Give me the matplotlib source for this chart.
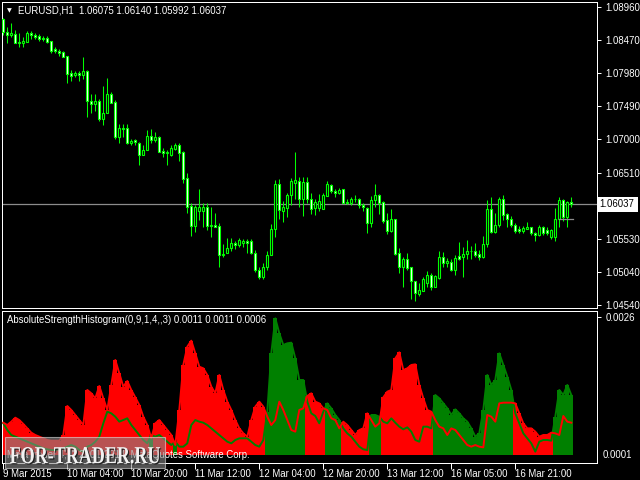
import matplotlib
matplotlib.use('Agg')
import matplotlib.pyplot as plt
import matplotlib.transforms as mtransforms
from matplotlib.patches import Rectangle, PathPatch
from matplotlib.textpath import TextPath
from matplotlib.font_manager import FontProperties
import numpy as np

plt.rcParams['font.family'] = ['Liberation Sans', 'DejaVu Sans']

# ---------------- data ----------------
opens = [1.08782,1.08594,1.08549,1.08564,1.08450,1.08435,1.08450,1.08583,1.08554,1.08539,
         1.08509,1.08505,1.08456,1.08337,1.08317,1.08302,1.08238,1.07981,1.07952,1.07981,
         1.07952,1.08020,1.07575,1.07526,1.07575,1.07300,1.07388,1.07675,1.07556,1.07042,
         1.07170,1.07170,1.06953,1.06993,1.06953,1.06775,1.06844,1.07052,1.06993,1.07042,
         1.06834,1.06804,1.06766,1.06859,1.06918,1.06815,1.06425,1.06014,1.05717,1.05944,
         1.05944,1.05995,1.05717,1.05728,1.05717,1.05292,1.05313,1.05387,1.05461,1.05431,
         1.05461,1.05491,1.05491,1.05313,1.05065,1.04957,1.05114,1.05288,1.05669,1.06336,
         1.05944,1.05980,1.06173,1.06360,1.06389,1.06122,1.06370,1.06122,1.05984,1.05984,
         1.05974,1.06162,1.06330,1.06241,1.06202,1.06262,1.06073,1.06063,1.06113,1.06122,
         1.06033,1.05980,1.05766,1.06103,1.06173,1.06073,1.05806,1.05648,1.05817,1.05313,
         1.05114,1.05224,1.05105,1.04898,1.04709,1.04758,1.04877,1.04991,1.04818,1.04947,
         1.05253,1.05165,1.05184,1.05065,1.05273,1.05253,1.05302,1.05351,1.05351,1.05302,
         1.05263,1.05451,1.05965,1.05629,1.05728,1.06122,1.05895,1.05817,1.05728,1.05669,
         1.05648,1.05678,1.05698,1.05609,1.05580,1.05698,1.05658,1.05559,1.05559,1.05817,
         1.06103,1.05855,1.06075]
highs = [1.08801,1.08672,1.08732,1.08623,1.08583,1.08515,1.08613,1.08613,1.08583,1.08564,
         1.08534,1.08539,1.08465,1.08376,1.08337,1.08317,1.08238,1.08030,1.08020,1.08020,
         1.08228,1.08030,1.07675,1.07675,1.07605,1.07793,1.07912,1.07704,1.07586,1.07230,
         1.07230,1.07230,1.07012,1.07012,1.06963,1.06918,1.07141,1.07151,1.07111,1.07052,
         1.06869,1.06844,1.06918,1.06944,1.06944,1.06830,1.06508,1.06054,1.06029,1.06262,
         1.06054,1.06054,1.05995,1.05906,1.05758,1.05451,1.05535,1.05535,1.05500,1.05535,
         1.05520,1.05520,1.05520,1.05362,1.05114,1.05173,1.05351,1.05747,1.06400,1.06410,
         1.06088,1.06202,1.06425,1.06815,1.06440,1.06440,1.06440,1.06202,1.06122,1.06192,
         1.06202,1.06380,1.06340,1.06262,1.06281,1.06262,1.06122,1.06143,1.06173,1.06133,
         1.06054,1.06004,1.06162,1.06340,1.06192,1.06093,1.05906,1.05965,1.05826,1.05387,
         1.05253,1.05313,1.05114,1.04907,1.04868,1.04957,1.05046,1.05025,1.04991,1.05347,
         1.05332,1.05243,1.05233,1.05292,1.05480,1.05411,1.05510,1.05421,1.05461,1.05362,
         1.05569,1.06103,1.06143,1.05906,1.06143,1.06173,1.05915,1.05866,1.05758,1.05717,
         1.05717,1.05777,1.05707,1.05629,1.05728,1.05717,1.05698,1.05669,1.05984,1.06143,
         1.06122,1.06093,1.06140]
lows = [1.08549,1.08426,1.08515,1.08435,1.08376,1.08376,1.08450,1.08494,1.08494,1.08456,
        1.08465,1.08435,1.08278,1.08278,1.08238,1.08219,1.07833,1.07872,1.07922,1.07863,
        1.07901,1.07329,1.07397,1.07418,1.07279,1.07211,1.07388,1.07537,1.07003,1.06953,
        1.07042,1.06933,1.06914,1.06914,1.06622,1.06775,1.06844,1.06953,1.06963,1.06815,
        1.06745,1.06622,1.06755,1.06844,1.06686,1.06360,1.05915,1.05569,1.05633,1.05806,
        1.05707,1.05658,1.05559,1.05698,1.05105,1.05253,1.05313,1.05351,1.05372,1.05411,
        1.05411,1.05313,1.05302,1.05036,1.04927,1.04936,1.05065,1.05288,1.05550,1.05826,
        1.05781,1.05855,1.06024,1.06113,1.06004,1.05866,1.06054,1.05895,1.05885,1.05944,
        1.05974,1.06162,1.06202,1.06152,1.06192,1.06054,1.06044,1.06029,1.06073,1.05984,
        1.05944,1.05618,1.05698,1.06004,1.05895,1.05766,1.05599,1.05629,1.05288,1.05025,
        1.04809,1.05065,1.04640,1.04610,1.04680,1.04758,1.04818,1.04769,1.04818,1.04927,
        1.05114,1.05105,1.05055,1.04991,1.05214,1.04966,1.05233,1.05224,1.05253,1.05214,
        1.05243,1.05411,1.05609,1.05609,1.05707,1.05806,1.05698,1.05698,1.05609,1.05609,
        1.05618,1.05669,1.05589,1.05500,1.05569,1.05589,1.05580,1.05529,1.05500,1.05707,
        1.05787,1.05707,1.05992]
closes = [1.08598,1.08554,1.08583,1.08435,1.08435,1.08465,1.08583,1.08545,1.08524,1.08494,
          1.08494,1.08450,1.08317,1.08312,1.08287,1.08228,1.07971,1.07941,1.07981,1.07952,
          1.08020,1.07566,1.07526,1.07575,1.07300,1.07397,1.07675,1.07546,1.07042,1.07170,
          1.07160,1.06953,1.06982,1.06963,1.06775,1.06844,1.07052,1.06993,1.07042,1.06815,
          1.06804,1.06815,1.06874,1.06918,1.06804,1.06419,1.06004,1.05717,1.06004,1.05995,
          1.05995,1.05717,1.05728,1.05698,1.05292,1.05302,1.05387,1.05461,1.05431,1.05510,
          1.05500,1.05461,1.05313,1.05065,1.04957,1.05114,1.05288,1.05669,1.06336,1.05955,
          1.05995,1.06173,1.06380,1.06400,1.06122,1.06370,1.06122,1.05974,1.06073,1.06084,
          1.06173,1.06340,1.06232,1.06202,1.06251,1.06063,1.06058,1.06113,1.06122,1.06024,
          1.05995,1.05766,1.06103,1.06173,1.06063,1.05796,1.05648,1.05817,1.05302,1.05114,
          1.05224,1.05095,1.04907,1.04720,1.04769,1.04927,1.04991,1.04818,1.04976,1.05253,
          1.05165,1.05194,1.05065,1.05243,1.05233,1.05302,1.05351,1.05342,1.05292,1.05263,
          1.05451,1.05965,1.05629,1.05728,1.06113,1.05885,1.05817,1.05728,1.05648,1.05648,
          1.05688,1.05698,1.05609,1.05580,1.05698,1.05609,1.05609,1.05658,1.05817,1.06103,
          1.05855,1.06073,1.06037]

bulls = [0.000597,0.000471,0.000377,0.000345,0.000314,0.000283,0.000251,0.000220,0.000188,0.000157,
         0.000126,0.000107,0.000094,0.000094,0.000107,0.000126,0.000157,0.000188,0.000157,0.000094,
         0.000063,0.000157,0.000188,0.000251,0.000345,0.000597,0.000816,0.000785,0.000722,0.000628,
         0.000659,0.000691,0.000565,0.000471,0.000377,0.000283,0.000220,0.000377,0.000345,0.000377,
         0.000314,0.000251,0.000188,0.000251,0.000157,0.000157,0.000220,0.000565,0.000659,0.000628,
         0.000609,0.000565,0.000502,0.000440,0.000377,0.000314,0.000251,0.000220,0.000283,0.000314,
         0.000314,0.000314,0.000251,0.000188,0.000157,0.000283,0.000816,0.001915,0.002575,0.002292,
         0.002072,0.002104,0.002116,0.001821,0.001413,0.001413,0.001005,0.000785,0.000735,0.000597,
         0.000816,0.000973,0.000879,0.000754,0.000659,0.000502,0.000408,0.000345,0.000251,0.000157,
         0.000107,0.000094,0.000754,0.000754,0.000722,0.000628,0.000597,0.000691,0.000609,0.000534,
         0.000484,0.000521,0.000440,0.000283,0.000251,0.000534,0.000534,0.000502,0.001130,0.001068,
         0.000973,0.000879,0.000754,0.000860,0.000785,0.000691,0.000628,0.000502,0.000345,0.000408,
         0.000848,0.001507,0.001319,0.001413,0.001915,0.001696,0.001476,0.001225,0.000785,0.000597,
         0.000408,0.000314,0.000220,0.000063,0.000251,0.000283,0.000283,0.000270,0.000722,0.001225,
         0.001130,0.001319,0.001130]
bears = [0.000609,0.000565,0.000628,0.000703,0.000659,0.000584,0.000502,0.000421,0.000377,0.000345,
         0.000314,0.000283,0.000270,0.000270,0.000270,0.000377,0.000923,0.000848,0.000754,0.000659,
         0.000565,0.001225,0.001162,0.001068,0.001300,0.001068,0.000848,0.001319,0.001790,0.001539,
         0.001287,0.001394,0.001225,0.001086,0.000942,0.000722,0.000565,0.000314,0.000597,0.000659,
         0.000565,0.000471,0.000377,0.000188,0.000848,0.001696,0.002041,0.002154,0.001915,0.001664,
         0.001633,0.001507,0.001287,0.001162,0.001507,0.001225,0.001005,0.000848,0.000659,0.000502,
         0.000408,0.000345,0.000659,0.000911,0.001005,0.000911,0.000722,0.000565,0.000659,0.001005,
         0.000848,0.000659,0.000471,0.000440,0.000848,0.000879,0.001112,0.001162,0.001005,0.000973,
         0.000879,0.000848,0.000691,0.000659,0.000502,0.000628,0.000565,0.000471,0.000377,0.000471,
         0.000502,0.000785,0.000659,0.000534,0.000597,0.001086,0.001193,0.001225,0.001821,0.001934,
         0.001601,0.001633,0.001696,0.001708,0.001319,0.001068,0.000848,0.000816,0.000659,0.000534,
         0.000502,0.000377,0.000502,0.000471,0.000377,0.000283,0.000188,0.000157,0.000188,0.000157,
         0.000144,0.000754,0.000722,0.000628,0.000973,0.000986,0.000986,0.000986,0.000973,0.000785,
         0.000597,0.000502,0.000502,0.000440,0.000345,0.000377,0.000377,0.000421,0.000408,0.000377,
         0.000735,0.000628,0.000609]

price_ticks = [1.08960, 1.08470, 1.07980, 1.07490, 1.07000, 1.06510, 1.05530, 1.05040, 1.04540]
bid_price = 1.06037
level_price = 1.05817
time_tick_bars = [0, 16, 32, 48, 64, 80, 96, 112, 128]
time_tick_labels = ['9 Mar 2015', '10 Mar 04:00', '10 Mar 20:00', '11 Mar 12:00', '12 Mar 04:00',
                    '12 Mar 20:00', '13 Mar 12:00', '16 Mar 05:00', '16 Mar 21:00']
header_main = 'EURUSD,H1  1.06075 1.06140 1.05992 1.06037'
header_ind = 'AbsoluteStrengthHistogram(0,9,1,4,,3) 0.0011 0.0011 0.0006'
ind_top_label = '0.0026'
ind_bottom_label = '0.0001'
copyright_text = 'MetaTrader 4, \u00a9 2001-2014, MetaQuotes Software Corp.'
watermark = 'FOR-TRADER.RU'

# ---------------- figure ----------------
W, H = 640, 480
fig = plt.figure(figsize=(6.4, 4.8), dpi=100, facecolor='black')

def frac(x0, y0, x1, y1):
    return [x0 / W, 1 - y1 / H, (x1 - x0) / W, (y1 - y0) / H]

ax = fig.add_axes(frac(2.3, 2.3, 597.3, 308.3), facecolor='black')
ax2 = fig.add_axes(frac(2.3, 310.7, 597.3, 462.7), facecolor='black')

o = np.array(opens); h = np.array(highs); l = np.array(lows); c = np.array(closes)
n = len(o)
x = np.arange(n)
FS = 6.9
LIME = '#00ff00'

# candles
ax.axhline(bid_price, color='#8c8c8c', lw=0.9, zorder=1)
ax.vlines(x, l, h, color=LIME, lw=0.75, zorder=2)
body_bot = np.minimum(o, c)
body_h = np.maximum(np.abs(c - o), 0.000005)
fills = ['white' if cc < oo else 'black' for oo, cc in zip(o, c)]
ax.bar(x, body_h, bottom=body_bot, width=0.55, color=fills, edgecolor=LIME,
       linewidth=0.8, zorder=3)
ax.plot([n - 4, n - 1 + 0.3], [level_price, level_price], color='#8c8c8c', lw=0.9, zorder=4)

ax.set_xlim(-0.25, 148.5)
ax.set_ylim(1.04497, 1.09034)
ax.set_xticks([])
ax.yaxis.tick_right()
ax.set_yticks(price_ticks)
ax.set_yticklabels(['%.5f' % p for p in price_ticks])
ax.tick_params(axis='y', colors='white', labelcolor='white', length=3, width=0.72,
               pad=3, labelsize=FS)
for sp in ax.spines.values():
    sp.set_color('white'); sp.set_linewidth(0.72)

trans = mtransforms.blended_transform_factory(ax.transAxes, ax.transData)
ax.text(1.0 + 2.5 / 595, bid_price, '%.5f' % bid_price, transform=trans, ha='left',
        va='center', color='black', fontsize=FS,
        bbox=dict(boxstyle='square,pad=0.3', facecolor='white', edgecolor='none'))

# indicator
bulls_a = np.array(bulls); bears_a = np.array(bears)
hist = np.maximum(bulls_a, bears_a)
hcol = ['#008000' if b >= r else '#ff0000' for b, r in zip(bulls_a, bears_a)]
ax2.bar(x, hist, width=1.0, color=hcol, linewidth=0, antialiased=False, zorder=2)
ax2.plot(x, bulls_a, color='#008000', lw=1.4, zorder=3)
ax2.plot(x, bears_a, color='#ff0000', lw=1.4, zorder=3)
ax2.set_xlim(-0.25, 148.5)
ax2.set_ylim(-0.000145, 0.0027187)
ax2.yaxis.tick_right()
ax2.set_yticks([0.0026])
ax2.set_yticklabels([ind_top_label])
ax2.tick_params(axis='y', colors='white', labelcolor='white', length=3, width=0.72,
                pad=3, labelsize=FS)
ax2.set_xticks(time_tick_bars)
ax2.set_xticklabels(time_tick_labels)
ax2.tick_params(axis='x', colors='white', labelcolor='white', length=4, width=0.72,
                pad=0.8, labelsize=FS)
for lab in ax2.get_xticklabels():
    lab.set_ha('left')
for sp in ax2.spines.values():
    sp.set_color('white'); sp.set_linewidth(0.72)
trans2 = mtransforms.blended_transform_factory(ax2.transAxes, ax2.transData)
ax2.text(1.0 + 5.5 / 595, 0.0, ind_bottom_label, transform=trans2, ha='left', va='center',
         color='white', fontsize=FS)

# headers
fig.text(7 / W, 1 - 10.5 / H, '\u25bc', color='white', fontsize=4.5, va='center', ha='left',
         family='DejaVu Sans')
fig.text(18.3 / W, 1 - 10.5 / H, header_main, color='white', fontsize=FS, va='center', ha='left')
fig.text(7.3 / W, 1 - 320 / H, header_ind, color='white', fontsize=FS, va='center', ha='left')

# copyright + watermark
fig.text(7.3 / W, 1 - 455.5 / H, copyright_text,
         color='white', fontsize=FS, va='center', ha='left')
fig.patches.append(Rectangle((5 / W, 1 - 468 / H), 160 / W, 31.5 / H, transform=fig.transFigure,
                             facecolor='#8a8a8a', alpha=0.6, edgecolor='#e0e0e0', lw=0.8,
                             zorder=10))
fp = FontProperties(family='Liberation Serif', weight='bold')
tp = TextPath((0, 0), watermark, size=20, prop=fp)
bb = tp.get_extents()
tx0, tx1, ty_base, cap = 10.0, 160.0, 463.5, 16.5
sx = (tx1 - tx0) / bb.width
sy = cap / bb.height
for dx, dy, fc, z in [(1.2, 1.2, '#202020', 11), (0, 0, '#f2f2f2', 12)]:
    tr = (mtransforms.Affine2D().translate(-bb.x0, -bb.y0).scale(sx, sy)
          .translate(tx0 + dx, H - ty_base - dy) + mtransforms.Affine2D().scale(1 / W, 1 / H)
          + fig.transFigure)
    fig.patches.append(PathPatch(tp, transform=tr, facecolor=fc, edgecolor='none', zorder=z))

fig.savefig('out.png', dpi=100, facecolor='black')
